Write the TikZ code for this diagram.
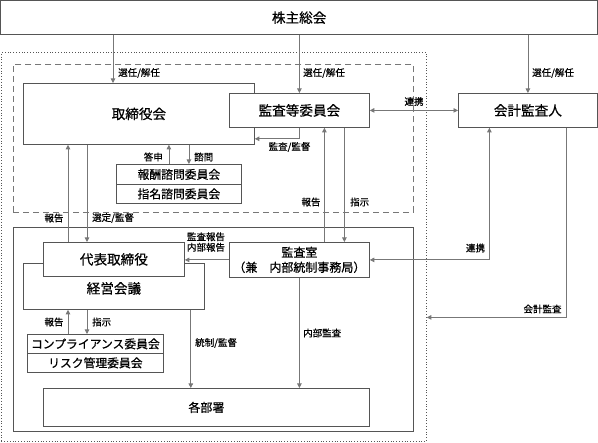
\documentclass[tikz,border=0pt]{standalone}
\usepackage{fontspec}
\setmainfont{Noto Sans CJK JP}[FakeBold=0.6,AutoFakeBold=0.6]
\usetikzlibrary{arrows.meta,calc}
\definecolor{boxc}{HTML}{555555}
\definecolor{linec}{HTML}{777777}
\begin{document}
\begin{tikzpicture}[x=1pt,y=-1pt,
 box/.style={draw=boxc,line width=0.8pt,fill=white,inner sep=0pt,anchor=north west,align=center},
 big/.style={font=\fontsize{13.6}{15}\selectfont},
 mid/.style={font=\fontsize{11.8}{13}\selectfont},
 sml/.style={font=\fontsize{12}{15}\selectfont},
 lbl/.style={font=\fontsize{9.5}{10.5}\selectfont,inner sep=0pt,align=center},
 conn/.style={draw=linec,line width=0.8pt},
 arr/.style={conn,-{Triangle[length=4.5pt,width=4.5pt]}},
 arrb/.style={conn,{Triangle[length=4.5pt,width=4.5pt]}-{Triangle[length=4.5pt,width=4.5pt]}},
 frame/.style={inner sep=0pt,anchor=north west,line width=0.8pt}
]
\useasboundingbox (0,0) rectangle (598,443);
% frames
\node[frame,draw=boxc,dotted,minimum width=425pt,minimum height=389pt] (outer) at (1,52) {};
\node[frame,draw=linec,dash pattern=on 6pt off 4pt,minimum width=400pt,minimum height=148pt] (board) at (13,64) {};
\node[frame,draw=boxc,minimum width=400pt,minimum height=204pt] (exec) at (13,227) {};
% boxes
\node[box,big,minimum width=596.5pt,minimum height=33.5pt] (sh) at (0.5,0.5) {\bfseries 株主総会};
\node[box,big,minimum width=231pt,minimum height=61pt] (tori) at (23,83) {\bfseries 取締役会};
\node[box,big,minimum width=140pt,minimum height=34pt] (kansa) at (229,93) {\bfseries 監査等委員会};
\node[box,big,minimum width=139pt,minimum height=34pt] (kaikei) at (458,93) {\bfseries 会計監査人};
\node[box,mid,minimum width=125pt,minimum height=20pt] (hoshu) at (116,164) {\bfseries 報酬諮問委員会};
\node[box,mid,minimum width=125pt,minimum height=19pt] (shimei) at (116,184) {\bfseries 指名諮問委員会};
\node[box,minimum width=181pt,minimum height=46pt] (keiei) at (23,263) {};
\node[big,inner sep=0pt] (keieit) at ([yshift=-2pt]keiei.center) {\bfseries 経営会議};
\node[box,big,minimum width=141pt,minimum height=34pt] (daihyo) at (43,242) {\bfseries 代表取締役};
\node[box,sml,minimum width=140pt,minimum height=35pt] (shitsu) at (229,242) {\bfseries 監査室\\\bfseries （兼　内部統制事務局）};
\node[box,mid,minimum width=136pt,minimum height=19pt] (comp) at (27,334) {\bfseries コンプライアンス委員会};
\node[box,mid,minimum width=136pt,minimum height=19pt] (risk) at (27,353) {\bfseries リスク管理委員会};
\node[box,sml,minimum width=326pt,minimum height=38pt] (kakubu) at (43,388) {\bfseries 各部署};
% helper coordinates
\coordinate (a1) at ([xshift=90pt]tori.north west);
\coordinate (a2) at ([yshift=6pt]tori.south east);
\coordinate (a3) at ([xshift=-10pt]hoshu.north);
\coordinate (a4) at ([xshift=10pt]hoshu.north);
\coordinate (a5) at ([xshift=25pt]daihyo.north west);
\coordinate (a6) at ([xshift=44pt]daihyo.north west);
\coordinate (a7) at ([xshift=25pt]shitsu.north);
\coordinate (a8) at ([xshift=45pt]shitsu.north);
\coordinate (a9) at ([xshift=-38.5pt]kaikei.south);
\coordinate (a10) at ([xshift=38.5pt]kaikei.south);
\coordinate (a11) at ([yshift=-70.5pt]outer.east);
\coordinate (a12) at ([xshift=-14pt]keiei.south east);
% connectors
\draw[arr] (a1 |- sh.south) -- (a1);
\draw[arr] (sh.south -| kansa.north) -- (kansa.north);
\draw[arr] (sh.south -| kaikei.north) -- (kaikei.north);
\draw[arrb] (kansa.east) -- (kaikei.west);
\draw[arr] (kansa.south) |- (a2);
\draw[arr] (a3) -- (a3 |- tori.south);
\draw[arr] (a4 |- tori.south) -- (a4);
\draw[arr] (a5) -- (a5 |- tori.south);
\draw[arr] (a6 |- tori.south) -- (a6);
\draw[arr] (a5 |- comp.north) -- (a5 |- keiei.south);
\draw[arr] (a6 |- keiei.south) -- (a6 |- comp.north);
\draw[arr] (a7) -- (a7 |- kansa.south);
\draw[arr] (a8 |- kansa.south) -- (a8);
\draw[arr] (shitsu.west) -- (shitsu.west -| daihyo.east);
\draw[arrb] (a9) |- (shitsu.east);
\draw[arr] (a10) |- (a11);
\draw[arr] (a12) -- (a12 |- kakubu.north);
\draw[arr] (shitsu.south) -- (shitsu.south |- kakubu.north);
% labels
\node[lbl,anchor=west] (l1) at (118,73) {\bfseries 選任/解任};
\node[lbl,anchor=west] (l2) at (303,73) {\bfseries 選任/解任};
\node[lbl,anchor=west] (l3) at (532,73) {\bfseries 選任/解任};
\node[lbl] (l4) at (414,101.5) {\bfseries 連携};
\node[lbl] (l5) at (289.5,147) {\bfseries 監査/監督};
\node[lbl,anchor=east] (l6) at (163,157) {\bfseries 答申};
\node[lbl,anchor=west] (l7) at (194,157) {\bfseries 諮問};
\node[lbl] (l8) at (54,218) {\bfseries 報告};
\node[lbl,anchor=west] (l9) at (92,218) {\bfseries 選定/監督};
\node[lbl] (l10) at (311,202) {\bfseries 報告};
\node[lbl,anchor=west] (l11) at (350,202) {\bfseries 指示};
\node[lbl] (l12) at (206,242) {\bfseries 監査報告\\\bfseries 内部報告};
\node[lbl] (l13) at (475.5,248) {\bfseries 連携};
\node[lbl] (l14) at (542.5,309) {\bfseries 会計監査};
\node[lbl] (l15) at (54,322) {\bfseries 報告};
\node[lbl,anchor=west] (l16) at (92,322) {\bfseries 指示};
\node[lbl,anchor=west] (l17) at (195,343) {\bfseries 統制/監督};
\node[lbl,anchor=west] (l18) at (303,333) {\bfseries 内部監査};
\end{tikzpicture}
\end{document}
